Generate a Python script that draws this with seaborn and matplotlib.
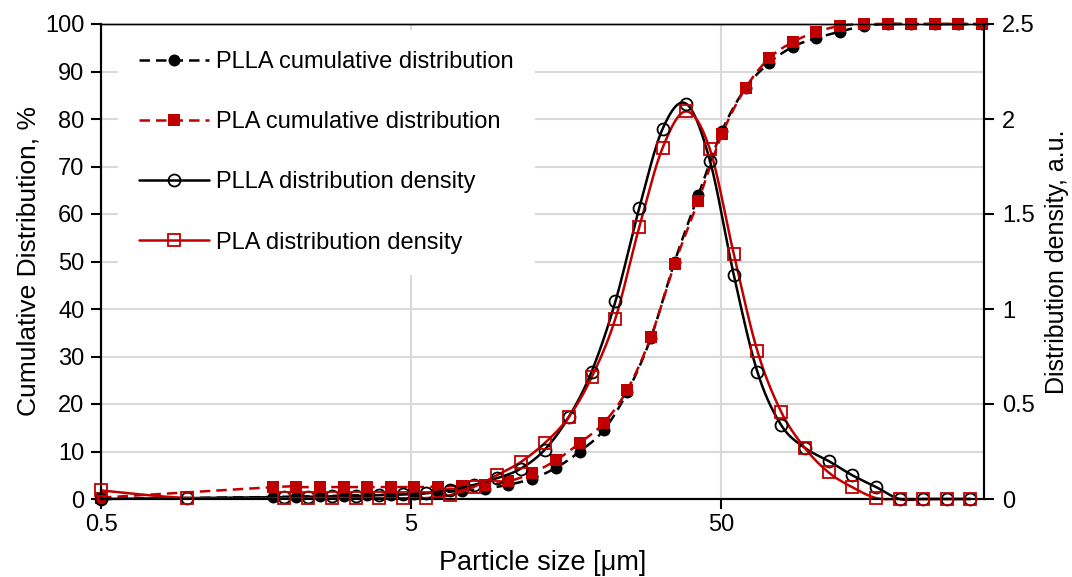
import numpy as np
import pandas as pd
import matplotlib
matplotlib.use("Agg")
import matplotlib.pyplot as plt
from matplotlib.lines import Line2D
import seaborn as sns

# ---------------- data ----------------
cum_x = [0.5, 1.79, 2.13, 2.54, 3.03, 3.61, 4.30, 5.12, 6.11, 7.28, 8.68, 10.3,
         12.3, 14.7, 17.5, 20.9, 24.9, 29.7, 35.4, 42.2, 50.3, 59.9, 71.4, 85.1,
         101, 121, 144, 172, 205, 244, 291, 347]
plla_cum = [0.0, 0.4, 0.5, 0.6, 0.7, 0.8, 0.9, 1.1, 1.4, 1.7, 2.2, 3.0,
            4.3, 6.6, 10.0, 14.5, 22.5, 34.0, 50.0, 64.0, 77.5, 86.5, 91.8, 95.2,
            97.0, 98.4, 99.6, 100, 100, 100, 100, 100]
pla_cum = [0.3, 2.5, 2.5, 2.5, 2.5, 2.5, 2.5, 2.5, 2.6, 2.8, 3.0, 3.7,
           5.5, 8.2, 11.8, 16.0, 23.0, 34.2, 49.5, 62.8, 76.8, 86.5, 92.8, 96.2,
           98.3, 99.6, 100, 100, 100, 100, 100, 100]

dens_x = [0.5, 0.95, 1.95, 2.33, 2.78, 3.31, 3.94, 4.70, 5.60, 6.67, 7.95, 9.48,
          11.3, 13.5, 16.1, 19.1, 22.8, 27.2, 32.4, 38.6, 46.0, 54.9, 65.4, 78.0,
          92.9, 111, 132, 158, 188, 224, 267, 318]
plla_dens = [0.0, 0.005, 0.01, 0.012, 0.014, 0.016, 0.02, 0.025, 0.03, 0.047, 0.074, 0.11,
             0.16, 0.26, 0.43, 0.67, 1.04, 1.53, 1.95, 2.08, 1.78, 1.18, 0.67, 0.39,
             0.27, 0.20, 0.126, 0.063, 0.0, 0.0, 0.0, 0.0]
pla_dens = [0.045, 0.005, 0.003, 0.005, 0.005, 0.005, 0.005, 0.005, 0.005, 0.02, 0.063, 0.126,
            0.195, 0.295, 0.43, 0.64, 0.95, 1.43, 1.85, 2.04, 1.84, 1.29, 0.78, 0.46,
            0.27, 0.14, 0.063, 0.005, 0.0, 0.0, 0.0, 0.0]

labels = ["PLLA cumulative distribution", "PLA cumulative distribution",
          "PLLA distribution density", "PLA distribution density"]
x_ticks = [0.5, 5, 50]
x_ticklabels = ["0.5", "5", "50"]
left_ticks = list(range(0, 101, 10))
right_ticks = [0, 0.5, 1, 1.5, 2, 2.5]
right_ticklabels = ["0", "0.5", "1", "1.5", "2", "2.5"]

RED = "#C00000"
BLACK = "#000000"
GRID = "#D9D9D9"
DASH = (0, (4.2, 2.4))


def smooth(xs, ys, n=24):
    """Excel-like smoothed line (Catmull-Rom Bezier in log-x space)."""
    u = np.log10(np.asarray(xs, float))
    v = np.asarray(ys, float)
    P = np.column_stack([u, v])
    out = []
    for i in range(len(P) - 1):
        p0 = P[i - 1] if i > 0 else P[i]
        p1 = P[i]
        p2 = P[i + 1]
        p3 = P[i + 2] if i + 2 < len(P) else P[i + 1]
        c1 = p1 + (p2 - p0) / 6.0
        c2 = p2 - (p3 - p1) / 6.0
        t = np.linspace(0, 1, n, endpoint=(i == len(P) - 2))[:, None]
        seg = ((1 - t) ** 3) * p1 + 3 * ((1 - t) ** 2) * t * c1 + 3 * (1 - t) * t ** 2 * c2 + t ** 3 * p2
        out.append(seg)
    S = np.vstack(out)
    return pd.DataFrame({"x": 10 ** S[:, 0], "y": S[:, 1]})


sns.set_theme(style="white")
plt.rcParams["font.family"] = ["Liberation Sans", "DejaVu Sans"]
plt.rcParams["text.color"] = "black"
plt.rcParams["axes.labelcolor"] = "black"
plt.rcParams["xtick.color"] = "black"
plt.rcParams["ytick.color"] = "black"
FS_TICK = 17
FS_LEG = 17
FS_TITLE = 19.5

fig = plt.figure(figsize=(10.72, 5.77), dpi=100)
ax = fig.add_axes([101 / 1072, 78 / 577, 883 / 1072, 475 / 577])
ax2 = ax.twinx()

ax.set_xscale("log")
ax.set_xlim(0.5, 352)
ax.set_ylim(0, 100)
ax2.set_ylim(0, 2.5)

# grid
ax.set_axisbelow(True)
ax.yaxis.grid(True, color=GRID, linewidth=1.5)
ax.xaxis.grid(True, which="major", color=GRID, linewidth=1.5)
ax.xaxis.grid(False, which="minor")

MS_C, MS_S = 8.6, 8.8

# cumulative (primary axis)
cum_specs = [(plla_cum, BLACK, "o", MS_C), (pla_cum, RED, "s", MS_S)]
for ys, col, mk, ms in cum_specs:
    df = smooth(cum_x, ys)
    sns.lineplot(data=df, x="x", y="y", ax=ax, sort=False, estimator=None,
                 color=col, linewidth=1.8, linestyle=DASH, clip_on=False)
    ax.plot(cum_x, ys, linestyle="none", marker=mk, color=col,
            markersize=ms, markeredgewidth=0, clip_on=False, zorder=3)

# density (secondary axis)
dens_specs = [(plla_dens, BLACK, "o", MS_C), (pla_dens, RED, "s", MS_S)]
for ys, col, mk, ms in dens_specs:
    df = smooth(dens_x, ys)
    sns.lineplot(data=df, x="x", y="y", ax=ax2, sort=False, estimator=None,
                 color=col, linewidth=1.8, clip_on=False)
    ax2.plot(dens_x, ys, linestyle="none", marker=mk, markerfacecolor="none",
             markeredgecolor=col, markersize=ms,
             markeredgewidth=1.3, clip_on=False, zorder=3)

# axes styling
ax.set_xticks(x_ticks)
ax.set_xticklabels(x_ticklabels)
ax.xaxis.set_minor_locator(matplotlib.ticker.NullLocator())
ax.set_yticks(left_ticks)
ax2.set_yticks(right_ticks)
ax2.set_yticklabels(right_ticklabels)

for a in (ax, ax2):
    for s in a.spines.values():
        s.set_color("black")
    a.spines["left"].set_linewidth(1.5)
    a.spines["right"].set_linewidth(1.5)
    a.spines["bottom"].set_linewidth(1.5)
    a.spines["top"].set_linewidth(1.0)
    a.set_xlabel("")
    a.set_ylabel("")

ax.tick_params(axis="both", which="major", direction="out", length=7, width=1.5,
               colors="black", labelsize=FS_TICK, pad=5, left=True, bottom=True)
ax2.tick_params(axis="y", which="major", direction="out", length=7, width=1.5,
                colors="black", labelsize=FS_TICK, pad=6, right=True)
ax.tick_params(axis="x", pad=4)

ax.set_xlabel("Particle size [μm]", fontsize=FS_TITLE, labelpad=10, color="black")
ax.set_ylabel("Cumulative Distribution, %", fontsize=FS_TITLE - 0.5, labelpad=3, color="black")
ax2.set_ylabel("Distribution density, a.u.", fontsize=18, labelpad=7, color="black")

# legend
handles = [
    Line2D([], [], color=BLACK, linestyle=DASH, linewidth=1.8, marker="o",
           markersize=MS_C, markeredgewidth=0),
    Line2D([], [], color=RED, linestyle=DASH, linewidth=1.8, marker="s",
           markersize=MS_S, markeredgewidth=0),
    Line2D([], [], color=BLACK, linewidth=1.8, marker="o", markerfacecolor="none",
           markeredgecolor=BLACK, markersize=MS_C, markeredgewidth=1.3),
    Line2D([], [], color=RED, linewidth=1.8, marker="s", markerfacecolor="none",
           markeredgecolor=RED, markersize=MS_S, markeredgewidth=1.3),
]
leg = ax2.legend(handles, labels, loc="upper left", bbox_to_anchor=(0.019, 0.988),
                 frameon=True, facecolor="white", edgecolor="none", framealpha=1,
                 fontsize=FS_LEG, handlelength=2.95, handletextpad=0.33,
                 labelspacing=1.62, borderpad=0.9, borderaxespad=0, fancybox=False)
for t in leg.get_texts():
    t.set_color("black")

fig.savefig("out.png", dpi=100)
